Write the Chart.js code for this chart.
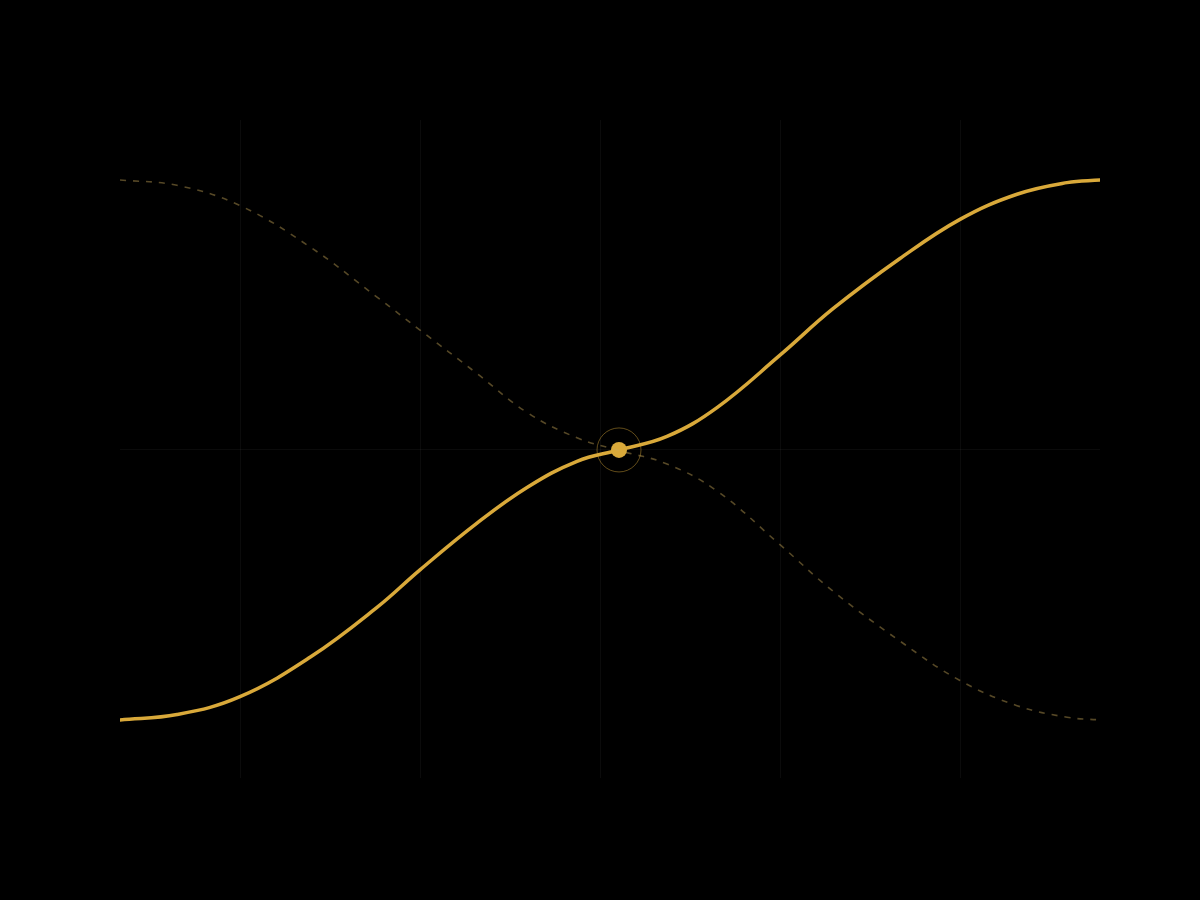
<!DOCTYPE html>
<html>
<head>
<meta charset="utf-8">
<title>S-curve</title>
<script src="https://cdn.jsdelivr.net/npm/chart.js@4"></script>
<style>
  html, body { margin: 0; padding: 0; background: #000; }
  #wrap { width: 1200px; height: 900px; }
</style>
</head>
<body>
<div id="wrap"><canvas id="curveChart" width="1200" height="900"></canvas></div>
<script>
// valores (x em unidades de 10px, y normalizado -1..1)
const xValues = [0, 5.7, 12, 19, 25.7, 30, 35.7, 40.7, 45.7, 49.9, 54.7, 59.7, 66, 71.3, 78, 84, 89.7, 94.7, 98];
const solidValues = [-1.0, -0.98, -0.914, -0.768, -0.583, -0.444, -0.271, -0.139, -0.042, 0, 0.05, 0.157, 0.351, 0.523, 0.709, 0.854, 0.947, 0.99, 1.0];
const dashedValues = [1.0, 0.98, 0.905, 0.752, 0.566, 0.444, 0.283, 0.139, 0.045, -0.002, -0.052, -0.152, -0.351, -0.523, -0.708, -0.854, -0.947, -0.99, -1.0];
const xTicks = [12, 30, 48, 66, 84];
const yTicks = [0];
const markerX = [49.9];
const markerY = [0];

const gold = '#D9A93A';
const goldDim = 'rgba(205, 172, 90, 0.42)';
const gridColor = 'rgba(255, 255, 255, 0.045)';

const toPoints = (xs, ys) => xs.map((x, i) => ({ x: x, y: ys[i] }));

const ctx = document.getElementById('curveChart').getContext('2d');
new Chart(ctx, {
  type: 'line',
  data: {
    datasets: [
      {
        data: toPoints(xValues, dashedValues),
        borderColor: goldDim,
        borderWidth: 1.6,
        borderDash: [6, 7],
        pointRadius: 0,
        tension: 0.4,
        fill: false,
      },
      {
        data: toPoints(xValues, solidValues),
        borderColor: gold,
        borderWidth: 3.5,
        borderCapStyle: 'round',
        pointRadius: 0,
        tension: 0.4,
        fill: false,
      },
      {
        // anel em volta do marcador
        data: toPoints(markerX, markerY),
        showLine: false,
        pointRadius: 22,
        pointBackgroundColor: 'rgba(0,0,0,0)',
        pointBorderColor: 'rgba(217, 169, 58, 0.45)',
        pointBorderWidth: 1,
      },
      {
        data: toPoints(markerX, markerY),
        showLine: false,
        pointRadius: 8,
        pointBackgroundColor: gold,
        pointBorderWidth: 0,
      },
    ],
  },
  options: {
    responsive: false,
    animation: false,
    devicePixelRatio: 1,
    layout: {
      padding: { left: 120, right: 100, top: 120, bottom: 122 },
    },
    plugins: {
      legend: { display: false },
      tooltip: { enabled: false },
    },
    scales: {
      x: {
        type: 'linear',
        min: 0,
        max: 98,
        afterBuildTicks: (scale) => { scale.ticks = xTicks.map((v) => ({ value: v })); },
        ticks: { display: false },
        grid: { color: gridColor, lineWidth: 1, drawTicks: false },
        border: { display: false },
      },
      y: {
        type: 'linear',
        min: -1.215,
        max: 1.222,
        afterBuildTicks: (scale) => { scale.ticks = yTicks.map((v) => ({ value: v })); },
        ticks: { display: false },
        grid: { color: gridColor, lineWidth: 1, drawTicks: false },
        border: { display: false },
      },
    },
  },
});
</script>
</body>
</html>
